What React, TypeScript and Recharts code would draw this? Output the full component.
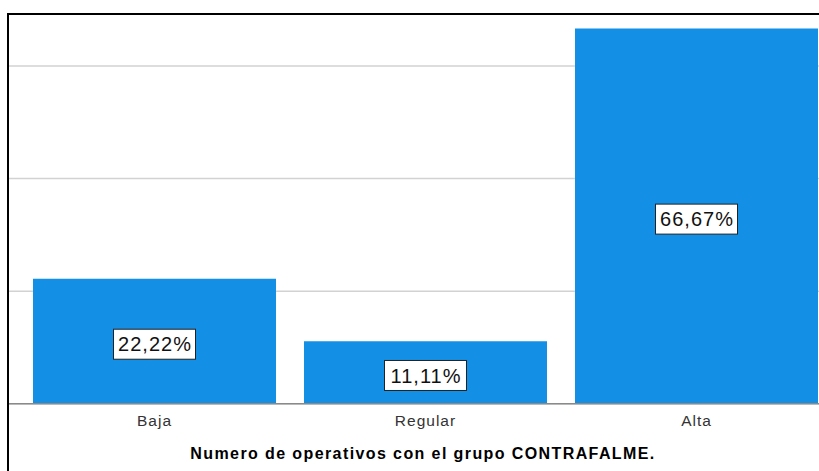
import { BarChart, Bar, XAxis, YAxis, CartesianGrid, LabelList } from 'recharts'

const niveles = ['Baja', 'Regular', 'Alta']
const porcentajes = [22.22, 11.11, 66.67]
const yTicks = [0, 20, 40, 60]
const tituloEje = 'Numero de operativos con el grupo CONTRAFALME.'

const data = niveles.map((n, i) => ({ nivel: n, pct: porcentajes[i] }))

const fmt = (v: number) => v.toFixed(2).replace('.', ',') + '%'
const fuente = "'Liberation Sans', Arial, sans-serif"

function Etiqueta(props: any) {
    const { x, y, width, height, value } = props
    const cx = x + width / 2
    const cy = y + height / 2 + 3
    const w = 82
    const h = 30
    return (
        <g>
            <rect x={cx - w / 2} y={cy - h / 2} width={w} height={h} fill="#fff" stroke="#222" strokeWidth={1} />
            <text x={cx + 0.5} y={cy} dy="0.36em" textAnchor="middle" fontSize={20} letterSpacing={1} fill="#111" fontFamily={fuente}>
                {fmt(value)}
            </text>
        </g>
    )
}

function TituloEje(props: any) {
    const vb = props.viewBox
    return (
        <text x={vb.x + vb.width / 2} y={vb.y + 55.5} textAnchor="middle" fontSize={16} letterSpacing={1.4} fontWeight="bold" fill="#000" fontFamily={fuente}>
            {tituloEje}
        </text>
    )
}

export default function App() {
    return (
        <div style={{ position: 'fixed', left: 0, top: 0, width: 819, height: 471, overflow: 'hidden', background: '#fff' }}>
            <div style={{ position: 'absolute', left: 8, top: 8 }}>
                <BarChart width={830} height={463} data={data} margin={{ top: 6, right: 0, bottom: 7.25, left: 0 }}>
                    <CartesianGrid horizontal vertical={false} stroke="#d2d2d2" strokeWidth={1.5} />
                    <YAxis hide domain={[0, 69.24]} ticks={yTicks} />
                    <XAxis
                        dataKey="nivel"
                        height={60}
                        padding={{ left: 11, right: 6 }}
                        tickLine={false}
                        tickSize={0}
                        tickMargin={11}
                        axisLine={{ stroke: '#8a8a8a', strokeWidth: 1.5 }}
                        tick={{ fontSize: 15.5, letterSpacing: 1, fill: '#333', fontFamily: fuente }}
                        label={<TituloEje />}
                    />
                    <Bar dataKey="pct" fill="#1390e6" barSize={243} isAnimationActive={false}>
                        <LabelList dataKey="pct" content={<Etiqueta />} />
                    </Bar>
                </BarChart>
            </div>
            <div style={{ position: 'absolute', left: 7, top: 13, width: 830, height: 470, borderTop: '2px solid #000', borderLeft: '2px solid #000' }} />
        </div>
    )
}
